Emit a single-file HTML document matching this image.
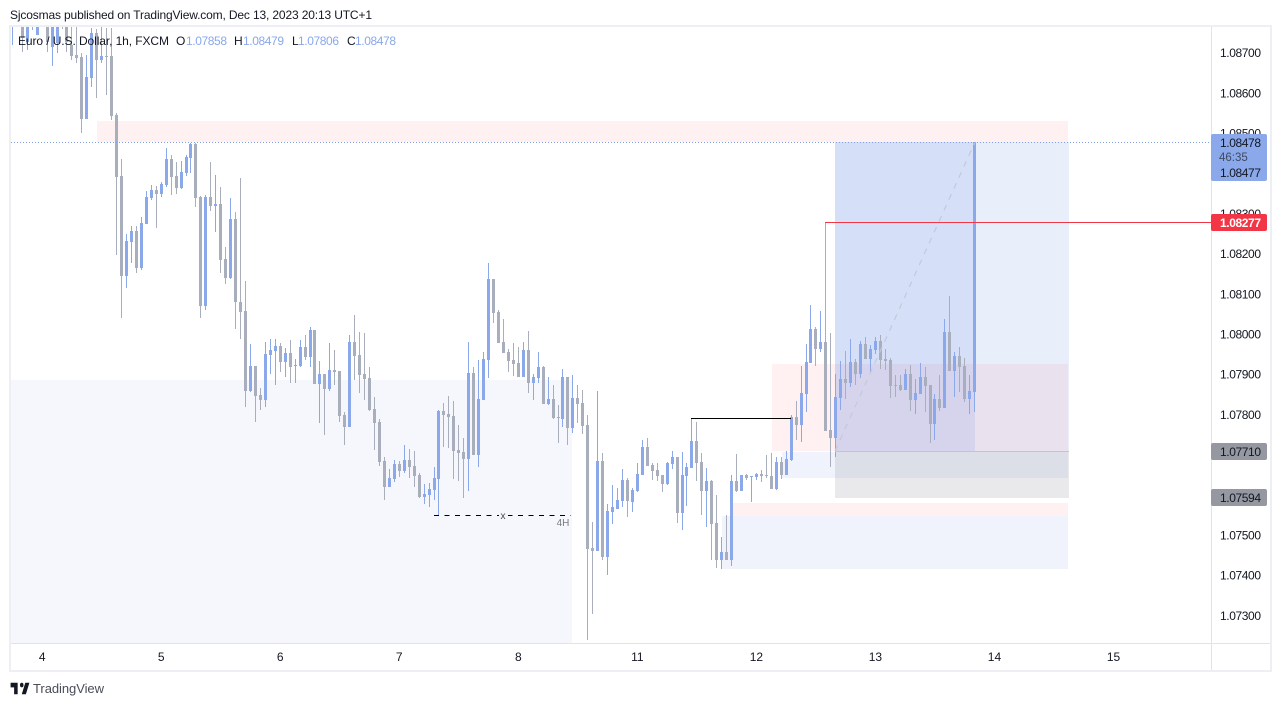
<!DOCTYPE html>
<html lang="en">
<head>
<meta charset="utf-8">
<title>EUR/USD 1h chart</title>
<style>
html,body{margin:0;padding:0;background:#fff;width:1281px;height:706px;overflow:hidden}
svg{display:block;font-family:"Liberation Sans",sans-serif}
</style>
</head>
<body>
<svg id="chart" width="1281" height="706" viewBox="0 0 1281 706" xmlns="http://www.w3.org/2000/svg">
  <defs>
    <clipPath id="pane-clip"><rect x="11" y="27" width="1200" height="616"/></clipPath>
  </defs>
  <rect x="0" y="0" width="1281" height="706" fill="#ffffff"/>
  <text x="10" y="19" font-size="12" fill="#131722" textLength="362">Sjcosmas published on TradingView.com, Dec 13, 2023 20:13 UTC+1</text>

  <rect x="10" y="26" width="1261" height="645" fill="none" stroke="#eeeff4" stroke-width="2"/>

  <g clip-path="url(#pane-clip)" shape-rendering="crispEdges">
    <rect x="10" y="380" width="562" height="263" fill="rgb(60,105,220)" fill-opacity="0.05"/>
    <rect x="97" y="121" width="971" height="21" fill="rgb(255,82,82)" fill-opacity="0.08"/>
    <rect x="772" y="364" width="296" height="87" fill="rgb(255,82,82)" fill-opacity="0.08"/>
    <rect x="782" y="452" width="286" height="26" fill="rgb(60,105,220)" fill-opacity="0.08"/>
    <rect x="733" y="503" width="335" height="13" fill="rgb(255,82,82)" fill-opacity="0.08"/>
    <rect x="722" y="516" width="346" height="53" fill="rgb(60,105,220)" fill-opacity="0.08"/>
    <rect x="835" y="142" width="140" height="309" fill="rgb(60,105,220)" fill-opacity="0.21"/>
    <rect x="975" y="142" width="94" height="309" fill="rgb(60,105,220)" fill-opacity="0.115"/>
    <rect x="835" y="451" width="234" height="47" fill="rgb(100,100,110)" fill-opacity="0.14"/>
    <g id="candles"></g>
    <line x1="835" y1="451.5" x2="1069" y2="451.5" stroke="#c4c5cb" stroke-width="1"/>
    <line x1="835" y1="451" x2="975" y2="142" stroke="#c5c9d6" stroke-width="1.2" stroke-dasharray="6 6" shape-rendering="auto"/>
    <line x1="691" y1="418.5" x2="791" y2="418.5" stroke="#000000" stroke-width="1"/>
    <line x1="434" y1="515.5" x2="571" y2="515.5" stroke="#000000" stroke-width="1" stroke-dasharray="5 5.5"/>
    <rect x="499" y="511" width="9" height="9" fill="#f5f6fc"/>
    <line x1="11" y1="142.5" x2="1211" y2="142.5" stroke="#7f9fe8" stroke-width="1" stroke-dasharray="1 2"/>
    <line x1="825" y1="222.5" x2="1211" y2="222.5" stroke="#f23645" stroke-width="1"/>
  </g>

  <text x="503" y="519" font-size="10" fill="#434651" text-anchor="middle">x</text>
  <text x="563" y="526" font-size="10" fill="#787b86" text-anchor="middle">4H</text>

  <line x1="1211.5" y1="27" x2="1211.5" y2="670" stroke="#e0e3eb" stroke-width="1" shape-rendering="crispEdges"/>
  <line x1="11" y1="643.5" x2="1270" y2="643.5" stroke="#e0e3eb" stroke-width="1" shape-rendering="crispEdges"/>

  <g id="price-ticks"></g>
  <g id="time-ticks"></g>

  <g font-size="12">
    <text x="18" y="45" fill="#131722" textLength="151">Euro / U.S. Dollar, 1h, FXCM</text>
    <text x="176" y="45" fill="#131722">O</text>
    <text x="186" y="45" fill="#8aa8ea" textLength="41">1.07858</text>
    <text x="234" y="45" fill="#131722">H</text>
    <text x="243" y="45" fill="#8aa8ea" textLength="41">1.08479</text>
    <text x="292" y="45" fill="#131722">L</text>
    <text x="298" y="45" fill="#8aa8ea" textLength="41">1.07806</text>
    <text x="347" y="45" fill="#131722">C</text>
    <text x="355" y="45" fill="#8aa8ea" textLength="41">1.08478</text>
  </g>

  <g font-size="12">
    <rect x="1211" y="134" width="56" height="47" rx="2" fill="#8aa8ea"/>
    <text x="1220" y="147" fill="#131722" textLength="41">1.08478</text>
    <text x="1219" y="161" fill="#3f4a63" font-size="11.5">46:35</text>
    <text x="1220" y="177" fill="#131722" textLength="41">1.08477</text>
    <rect x="1211" y="214" width="56" height="17" rx="2" fill="#f23645"/>
    <text x="1220" y="227" fill="#ffffff" font-weight="bold" textLength="41">1.08277</text>
    <rect x="1211" y="443" width="56" height="17" rx="2" fill="#9598a1"/>
    <text x="1220" y="456" fill="#131722" textLength="41">1.07710</text>
    <rect x="1211" y="489" width="56" height="17" rx="2" fill="#9598a1"/>
    <text x="1220" y="502" fill="#131722" textLength="41">1.07594</text>
  </g>

  <g>
    <svg x="10" y="682" width="20" height="13" viewBox="1 5 34 17" preserveAspectRatio="none">
      <path d="M14 6H2v6h6v9h6V6zm14 15h-7l6-15h7l-6 15zm-7-9a3 3 0 1 0 0-6 3 3 0 0 0 0 6z" fill="#131722"/>
    </svg>
    <text x="33" y="693" font-size="13" fill="#4a4d57" textLength="71">TradingView</text>
  </g>
</svg>

<script>
// Prices are in 0.00001 units (108478 = 1.08478), one entry per hourly bar.
const opens = [
108770,108820,108795,108728,108782,108745,108807,108795,108715,108725,
108795,108795,108720,108695,108690,108536,108638,108750,108683,108693,
108693,108546,108394,108145,108230,108257,108165,108274,108339,108359,
108349,108371,108436,108394,108364,108401,108439,108474,108341,108071,
108341,108319,108324,108187,108140,108287,108081,108059,107860,107922,
107850,107837,107949,107959,107972,107932,107954,107922,107922,107969,
107944,108011,107877,107902,107864,107912,107909,107800,107770,107982,
107949,107902,107892,107815,107782,107685,107620,107640,107678,107660,
107688,107673,107650,107596,107601,107613,107640,107810,107802,107797,
107713,107708,107690,107904,107700,107837,107937,108137,108056,107982,
107957,107937,107929,107894,107962,107879,107892,107919,107827,107839,
107795,107790,107894,107767,107842,107830,107775,107469,107461,107685,
107446,107558,107566,107586,107638,107583,107611,107650,107720,107675,
107663,107650,107628,107678,107695,107556,107648,107668,107735,107683,
107611,107635,107531,107439,107459,107439,107635,107611,107650,107645,
107645,107653,107650,107648,107615,107683,107650,107688,107795,107775,
107852,107929,108014,107964,107982,107762,107742,107842,107889,107879,
107932,107902,107977,107939,107962,107984,107939,107937,107874,107874,
107862,107902,107837,107852,107894,107874,107777,107839,107817,108006,
107909,107947,107922,107839,107858];
const highs = [
108802,108832,108812,108812,108820,108807,108820,108807,108795,108807,
108807,108807,108767,108767,108700,108695,108762,108760,108767,108762,
108762,108551,108436,108249,108269,108269,108292,108356,108371,108369,
108379,108464,108446,108429,108431,108446,108476,108476,108344,108346,
108429,108396,108366,108217,108339,108304,108389,108133,107977,107922,
107867,107982,107989,107989,107979,107967,107986,107939,107986,107999,
108019,108011,107934,107902,107979,107962,107909,107807,107999,108049,
108006,108004,107919,107845,107790,107695,107665,107688,107685,107725,
107715,107710,107655,107628,107630,107670,107812,107830,107847,107835,
107775,107742,107982,107919,107937,107957,108177,108137,108061,108039,
107964,107979,107969,107982,108009,107902,107957,107922,107894,107874,
107825,107914,107894,107899,107874,107862,107800,107533,107860,107705,
107578,107625,107618,107665,107643,107618,107680,107737,107742,107680,
107680,107650,107683,107710,107695,107708,107680,107792,107782,107705,
107668,107638,107601,107496,107551,107650,107703,107650,107653,107648,
107655,107663,107700,107705,107695,107695,107710,107800,107835,107922,
107977,108074,108019,108059,108280,108004,107902,107934,107959,107989,
107939,107984,107994,107974,107994,107999,107964,107942,107899,107899,
107914,107924,107889,107929,107919,107874,107852,107899,108039,108095,
107957,107969,107942,107899,108479];
const lows = [
108720,108782,108703,108708,108757,108745,108770,108703,108668,108700,
108760,108703,108683,108675,108501,108536,108616,108588,108675,108596,
108533,108197,108041,108115,108177,108152,108160,108274,108334,108264,
108341,108366,108346,108349,108361,108394,108401,108316,108041,108061,
108306,108254,108152,108125,108137,108014,107989,107820,107857,107782,
107812,107820,107902,107874,107907,107894,107879,107879,107919,107937,
107919,107877,107780,107750,107860,107874,107782,107725,107770,107887,
107854,107837,107810,107713,107673,107588,107620,107633,107645,107655,
107643,107620,107593,107578,107570,107588,107551,107720,107718,107640,
107635,107593,107611,107700,107670,107837,107892,108029,107979,107954,
107907,107897,107894,107894,107854,107837,107879,107827,107825,107790,
107730,107770,107725,107755,107780,107752,107239,107304,107461,107439,
107401,107528,107566,107571,107546,107558,107608,107650,107673,107638,
107635,107608,107625,107665,107531,107513,107573,107668,107635,107551,
107521,107439,107419,107416,107439,107424,107608,107611,107638,107583,
107638,107633,107643,107615,107613,107640,107650,107685,107737,107732,
107807,107929,107922,107957,107760,107670,107695,107812,107840,107869,
107874,107892,107939,107907,107952,107914,107912,107842,107845,107860,
107862,107810,107802,107852,107807,107730,107737,107810,107817,107909,
107845,107857,107832,107802,107806];
const closes = [
108795,108795,108737,108795,108807,108795,108782,108728,108770,108795,
108770,108728,108693,108688,108536,108640,108750,108683,108693,108690,
108543,108391,108145,108232,108257,108165,108277,108341,108359,108349,
108374,108436,108391,108364,108404,108441,108474,108339,108071,108341,
108319,108324,108185,108140,108287,108081,108056,107860,107922,107847,
107837,107952,107962,107972,107932,107954,107919,107924,107969,107944,
108011,107877,107902,107864,107912,107907,107797,107770,107982,107947,
107899,107889,107812,107780,107683,107620,107643,107678,107660,107688,
107670,107648,107596,107603,107615,107643,107810,107800,107795,107710,
107705,107690,107904,107700,107839,107939,108137,108054,107979,107954,
107934,107927,107894,107962,107879,107894,107919,107827,107839,107792,
107792,107894,107767,107842,107827,107772,107466,107461,107685,107446,
107561,107571,107588,107638,107586,107613,107653,107720,107673,107660,
107648,107628,107680,107695,107556,107650,107670,107735,107680,107611,
107635,107528,107439,107459,107439,107635,107611,107650,107643,107648,
107653,107648,107648,107615,107683,107650,107690,107795,107775,107855,
107932,108014,107964,107982,107760,107742,107845,107889,107879,107932,
107902,107977,107939,107964,107984,107937,107934,107872,107872,107862,
107902,107837,107854,107894,107872,107777,107839,107817,108006,107909,
107947,107919,107839,107860,108478];

const priceTickValues = [108700,108600,108500,108400,108300,108200,108100,108000,107900,107800,107700,107600,107500,107400,107300];
const priceTickLabels = ["1.08700","1.08600","1.08500","1.08400","1.08300","1.08200","1.08100","1.08000","1.07900","1.07800","1.07700","1.07600","1.07500","1.07400","1.07300"];
const timeTickBars = [6,30,54,78,102,126,150,174,198,222];
const timeTickLabels = ["4","5","6","7","8","11","12","13","14","15"];

const SVG_NS = 'http://www.w3.org/2000/svg';
const UP_COLOR = '#8aa8ea';
const DOWN_COLOR = '#a8aebb';

function xOf(barIndex) {
  return 12.4 + 4.96 * barIndex;
}
function yOf(price) {
  return (108832 - price) * 0.402;
}

const candleLayer = document.getElementById('candles');
opens.forEach(function (open, i) {
  const close = closes[i];
  const color = close >= open ? UP_COLOR : DOWN_COLOR;
  const px = Math.floor(xOf(i));
  const wickTop = Math.round(yOf(highs[i]));
  const wickBottom = Math.round(yOf(lows[i]));
  const bodyTop = Math.round(yOf(Math.max(open, close)));
  const bodyBottom = Math.round(yOf(Math.min(open, close)));

  const wick = document.createElementNS(SVG_NS, 'rect');
  wick.setAttribute('x', px);
  wick.setAttribute('y', wickTop);
  wick.setAttribute('width', 1);
  wick.setAttribute('height', Math.max(1, wickBottom - wickTop));
  wick.setAttribute('fill', color);
  
  
  candleLayer.appendChild(wick);

  const body = document.createElementNS(SVG_NS, 'rect');
  body.setAttribute('x', px - 1);
  body.setAttribute('y', bodyTop);
  body.setAttribute('width', 3);
  body.setAttribute('height', Math.max(1, bodyBottom - bodyTop));
  body.setAttribute('fill', color);
  
  
  candleLayer.appendChild(body);
});

const priceLayer = document.getElementById('price-ticks');
priceTickValues.forEach(function (value, i) {
  const label = document.createElementNS(SVG_NS, 'text');
  label.setAttribute('x', 1220);
  label.setAttribute('y', yOf(value) + 4);
  label.setAttribute('font-size', 12);
  label.setAttribute('fill', '#131722');
  label.setAttribute('textLength', 41);
  
  
  label.textContent = priceTickLabels[i];
  priceLayer.appendChild(label);
});

const timeLayer = document.getElementById('time-ticks');
timeTickBars.forEach(function (bar, i) {
  const label = document.createElementNS(SVG_NS, 'text');
  label.setAttribute('x', xOf(bar));
  label.setAttribute('y', 661);
  label.setAttribute('font-size', 12);
  label.setAttribute('fill', '#131722');
  label.setAttribute('text-anchor', 'middle');
  
  
  label.textContent = timeTickLabels[i];
  timeLayer.appendChild(label);
});
</script>
</body>
</html>
